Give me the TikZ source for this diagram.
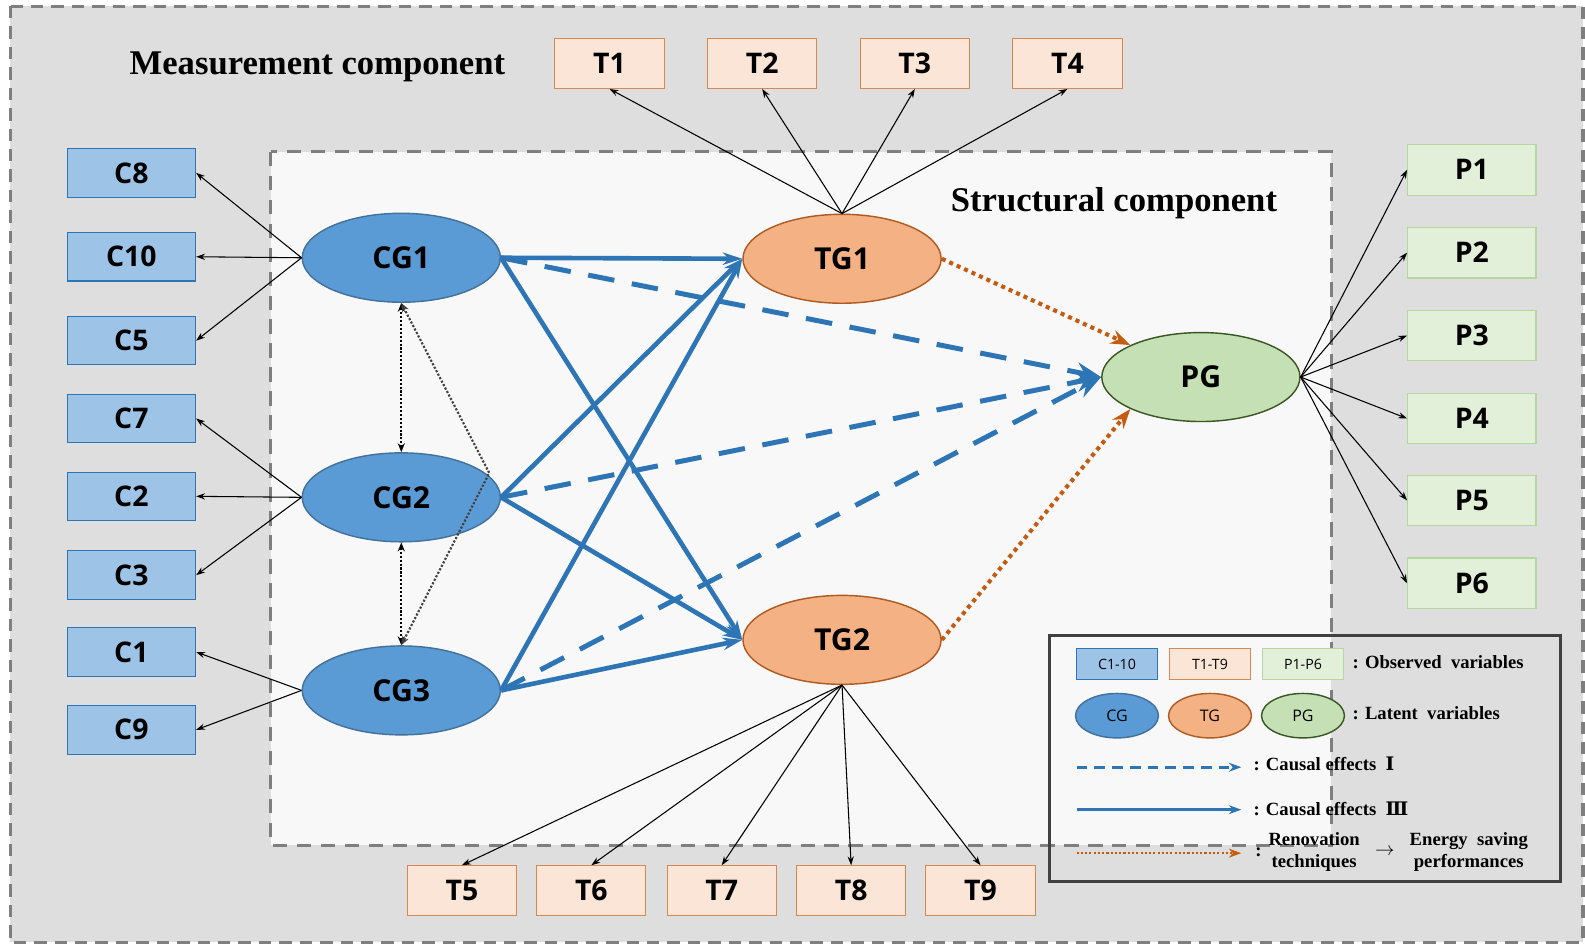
\documentclass[tikz,border=0pt]{standalone}
\usepackage{fontspec}
\setmainfont{Liberation Serif}
\newfontfamily\labelfont{Open Sans}
\newfontfamily\numfont{DejaVu Serif}
\usetikzlibrary{arrows.meta,shapes.geometric}

\definecolor{bggray}{HTML}{DEDEDE}
\definecolor{innerwhite}{HTML}{F8F8F8}
\definecolor{framegray}{HTML}{7F7F7F}
\definecolor{cgfill}{HTML}{5B9BD5}
\definecolor{cgline}{HTML}{41719C}
\definecolor{cboxfill}{HTML}{9DC3E6}
\definecolor{cboxline}{HTML}{2E75B6}
\definecolor{tgfill}{HTML}{F4B183}
\definecolor{tgline}{HTML}{AE5A21}
\definecolor{tboxfill}{HTML}{FBE5D6}
\definecolor{tboxline}{HTML}{D9894F}
\definecolor{pgfill}{HTML}{C5E0B4}
\definecolor{pgline}{HTML}{385723}
\definecolor{pboxfill}{HTML}{E2F0D9}
\definecolor{pboxline}{HTML}{B5D69E}
\definecolor{effblue}{HTML}{2E75B6}
\definecolor{renoorange}{HTML}{C55A11}

\begin{document}
\begin{tikzpicture}[x=0.2mm,y=-0.2mm,
  lab/.style={font=\labelfont\bfseries\fontsize{16}{16}\selectfont},
  cbox/.style={lab,draw=cboxline,fill=cboxfill,line width=0.6pt,minimum width=25.4mm,minimum height=9.6mm},
  tbox/.style={lab,draw=tboxline,fill=tboxfill,line width=0.6pt,minimum width=21.6mm,minimum height=9.8mm},
  pbox/.style={lab,draw=pboxline,fill=pboxfill,line width=0.6pt,minimum width=25.4mm,minimum height=10mm},
  latent/.style={ellipse,lab,font=\labelfont\bfseries\fontsize{17}{17}\selectfont,line width=0.8pt,inner sep=0pt,minimum width=39.2mm,minimum height=17.6mm},
  cg/.style={latent,draw=cgline,fill=cgfill},
  tg/.style={latent,draw=tgline,fill=tgfill},
  pg/.style={latent,draw=pgline,fill=pgfill},
  title/.style={font=\bfseries\fontsize{19.5}{20}\selectfont},
  legtext/.style={font=\bfseries\fontsize{10.5}{12.5}\selectfont,inner sep=1pt},
  load/.style={line width=0.6pt,-{Stealth[length=5pt,width=3.5pt]}},
  corr/.style={densely dotted,line width=1.2pt,{Stealth[length=5pt,width=4pt]}-{Stealth[length=5pt,width=4pt]}},
  direct/.style={effblue,line width=2.6pt,-{Stealth[length=11pt,width=7pt]}},
  indirect/.style={effblue,line width=2.8pt,dash pattern=on 15pt off 10pt,-{Stealth[length=14pt,width=11pt]}},
  reno/.style={renoorange,line width=2.3pt,dash pattern=on 2.3pt off 2.3pt,-{Stealth[length=11pt,width=8pt]}}]

\useasboundingbox (0,0) rectangle (1568,934);
\draw[framegray,fill=bggray,line width=1.7pt,dash pattern=on 7pt off 4.5pt] (10,6) rectangle (1566,932);
\draw[framegray,fill=innerwhite,line width=1.7pt,dash pattern=on 8pt off 5.5pt] (268,150) rectangle (1317,836);

\node[title] (meas) at (314,66) {Measurement component};
\node[title] (struct) at (1102,201) {Structural component};

\node[cbox] (C8) at (130,171) {C8};
\node[cbox] (C10) at (130,254) {C10};
\node[cbox] (C5) at (130,337) {C5};
\node[cbox] (C7) at (130,414) {C7};
\node[cbox] (C2) at (130,491) {C2};
\node[cbox] (C3) at (130,569) {C3};
\node[cbox] (C1) at (130,645) {C1};
\node[cbox] (C9) at (130,722) {C9};

\node[tbox] (T1) at (603,63) {T1};
\node[tbox] (T2) at (754,63) {T2};
\node[tbox] (T3) at (905,63) {T3};
\node[tbox] (T4) at (1056,63) {T4};
\node[tbox] (T5) at (457,881) {T5};
\node[tbox] (T6) at (585,881) {T6};
\node[tbox] (T7) at (714,881) {T7};
\node[tbox] (T8) at (842,881) {T8};
\node[tbox] (T9) at (970,881) {T9};

\node[pbox] (P1) at (1456,168) {P1};
\node[pbox] (P2) at (1456,250) {P2};
\node[pbox] (P3) at (1456,332) {P3};
\node[pbox] (P4) at (1456,414) {P4};
\node[pbox] (P5) at (1456,495) {P5};
\node[pbox] (P6) at (1456,577) {P6};

\node[cg] (CG1) at (397,255) {CG1};
\node[cg] (CG2) at (397,492) {CG2};
\node[cg] (CG3) at (397,683) {CG3};
\node[tg] (TG1) at (833,256) {TG1};
\node[tg] (TG2) at (833,633) {TG2};
\node[pg] (PG) at (1188,373) {PG};

\foreach \c in {C8,C10,C5} \draw[load] (CG1.west) -- (\c.east);
\foreach \c in {C7,C2,C3} \draw[load] (CG2.west) -- (\c.east);
\foreach \c in {C1,C9} \draw[load] (CG3.west) -- (\c.east);
\foreach \t in {T1,T2,T3,T4} \draw[load] (TG1.north) -- (\t.south);
\foreach \t in {T5,T6,T7,T8,T9} \draw[load] (TG2.south) -- (\t.north);
\foreach \p in {P1,P2,P3,P4,P5,P6} \draw[load] (PG.east) -- (\p.west);

\draw[corr] (CG1.south) -- (CG2.north);
\draw[corr] (CG2.south) -- (CG3.north);
\coordinate (kink) at (484,468);
\draw[corr,black!75] (CG1.south) -- (kink) -- (CG3.north);

\foreach \a/\b in {CG1/TG1,CG1/TG2,CG2/TG1,CG2/TG2,CG3/TG1,CG3/TG2}
  \draw[direct] (\a.east) -- (\b.west);
\foreach \a in {CG1,CG2,CG3} \draw[indirect] (\a.east) -- (PG.west);
\draw[reno] (TG1.east) -- (PG.north west);
\draw[reno] (TG2.east) -- (PG.south west);

\draw[black!75,line width=1.7pt] (1038,629) rectangle (1544,872);
\node[cbox,minimum width=16.2mm,minimum height=6mm,font=\labelfont\fontsize{8}{8}\selectfont] (lc) at (1105,657) {C1-10};
\node[tbox,minimum width=16.2mm,minimum height=6mm,font=\labelfont\fontsize{8}{8}\selectfont] (lt) at (1197,657) {T1-T9};
\node[pbox,minimum width=16.2mm,minimum height=6mm,font=\labelfont\fontsize{8}{8}\selectfont] (lp) at (1289,657) {P1-P6};
\node[legtext,anchor=west] (lobs) at (1336,655) {: Observed \ variables};
\node[cg,minimum width=16.4mm,minimum height=8.8mm,font=\labelfont\fontsize{9}{9}\selectfont] (lcg) at (1105,708) {CG};
\node[tg,minimum width=16.4mm,minimum height=8.8mm,font=\labelfont\fontsize{9}{9}\selectfont] (ltg) at (1197,708) {TG};
\node[pg,minimum width=16.4mm,minimum height=8.8mm,font=\labelfont\fontsize{9}{9}\selectfont] (lpg) at (1289,708) {PG};
\node[legtext,anchor=west] (llat) at (1336,706) {: Latent \ variables};

\coordinate (la1) at (1065,759);
\coordinate (lb1) at (1228,759);
\draw[indirect,line width=1.6pt,dash pattern=on 6pt off 4pt,-{Stealth[length=7pt,width=5pt]}] (la1) -- (lb1);
\node[legtext,anchor=west] (lce1) at (1238,756) {: Causal effects \ {\numfont Ⅰ}};
\coordinate (la2) at (1065,801);
\coordinate (lb2) at (1228,801);
\draw[direct,line width=1.6pt,-{Stealth[length=7pt,width=5pt]}] (la2) -- (lb2);
\node[legtext,anchor=west] (lce3) at (1238,800) {: Causal effects \ {\numfont Ⅲ}};
\coordinate (la3) at (1065,844);
\coordinate (lb3) at (1228,844);
\draw[reno,line width=1.4pt,dash pattern=on 1.2pt off 1.2pt,-{Stealth[length=7pt,width=5pt]}] (la3) -- (lb3);
\node[legtext] (lcolon) at (1245,843) {:};
\node[legtext,align=center] (lreno) at (1300,843) {Renovation\\techniques};
\node[legtext] (larrow) at (1370,843) {$\rightarrow$};
\node[legtext,align=center] (lsave) at (1453,843) {Energy \ saving\\performances};
\end{tikzpicture}
\end{document}
